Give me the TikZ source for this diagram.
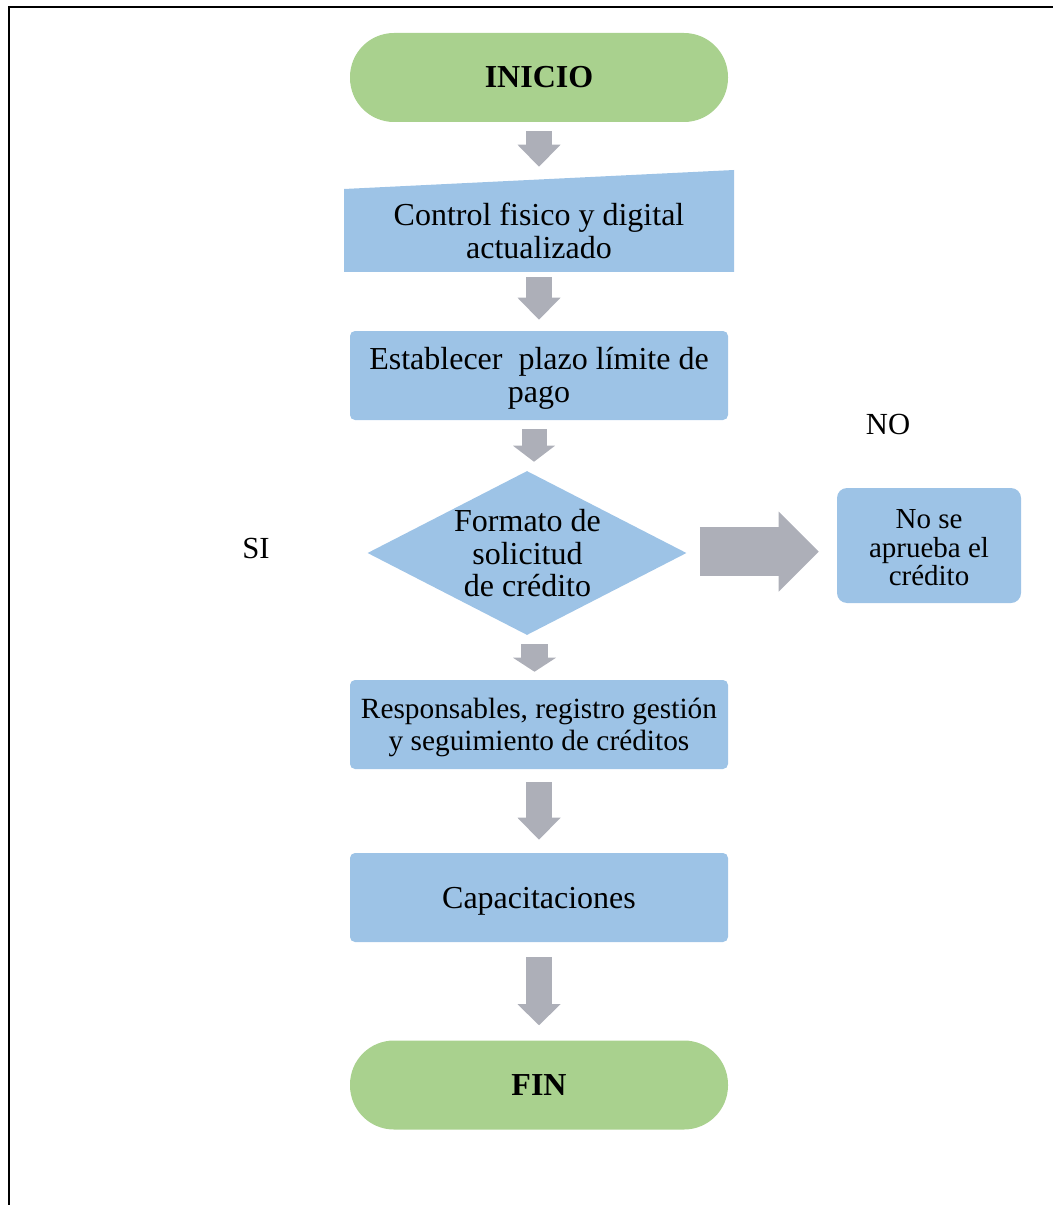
\documentclass[tikz,border=0pt]{standalone}
\usepackage{fontspec}
\setmainfont{Liberation Serif}
\usetikzlibrary{arrows.meta,shapes.geometric}
\definecolor{grn}{HTML}{A9D18E}
\definecolor{blu}{HTML}{9DC3E6}
\definecolor{arrg}{HTML}{ADAFB8}
\begin{document}
\begin{tikzpicture}[x=0.75pt,y=-0.75pt,
  term/.style={fill=grn, rounded corners=33pt, minimum width=283.5pt, minimum height=66.75pt, inner sep=0pt, font=\fontsize{24}{25}\selectfont\bfseries},
  procbox/.style={fill=blu, rounded corners=3.75pt, minimum width=283.5pt, minimum height=66.75pt, inner sep=0pt},
  txt/.style={inner sep=0pt, align=center, font=\fontsize{24}{24.75}\selectfont},
  dia/.style={diamond, fill=blu, minimum width=239.25pt, minimum height=123pt, inner sep=0pt},
  lbl/.style={inner sep=0pt, font=\fontsize{23}{25}\selectfont},
  barrow/.style={draw=arrg, line width=19.5pt, -{Triangle[length=16.5pt,width=32.25pt,line width=0pt]}}
]
\useasboundingbox (0,0) rectangle (1053,1205);
\draw[line width=1.5pt] (8.5,1205) -- (8.5,7.5) -- (1053,7.5);

% shapes
\node[term] (inicio) at (539,77.5) {INICIO};
\fill[blu] (344,272) -- (344,189) -- (734,170) -- (734,272) -- cycle;
\node[txt, minimum width=292.5pt, minimum height=62.25pt] (ctrl) at (539,230.5) {Control fisico y digital\\actualizado};
\node[procbox] (estab) at (539,375.5) {};
\node[txt] (estabt) at ([yshift=-2.25pt]estab.center) {Establecer~ plazo límite de\\pago};
\node[dia] (dec) at (527,553) {};
\node[txt, font=\fontsize{24}{24.4}\selectfont] (dect) at (527.5,553.5) {Formato de\\solicitud\\de crédito};
\node[procbox, minimum width=138pt, minimum height=86.25pt, rounded corners=7.5pt] (nob) at (929,545.5) {};
\node[txt, font=\fontsize{21.75}{21.4}\selectfont] (nobt) at ([yshift=-1.9pt]nob.center) {No se\\aprueba el\\crédito};
\node[procbox] (resp) at (539,724.5) {};
\node[txt, font=\fontsize{22}{24}\selectfont] (respt) at ([yshift=-2.25pt]resp.center) {Responsables, registro gestión\\y seguimiento de créditos};
\node[procbox] (cap) at (539,897.5) {};
\node[txt] (capt) at ([yshift=-3pt]cap.center) {Capacitaciones};
\node[term] (fin) at (539,1085) {FIN};
\node[lbl] (si) at (256,548) {SI};
\node[lbl] (no) at (888,424) {NO};

% block arrows
\draw[barrow] ([yshift=-6.75pt]inicio.south) -- ([yshift=16.5pt]ctrl.north);
\draw[barrow] ([yshift=-3.75pt]ctrl.south) -- ([yshift=8.25pt]estab.north);
\draw[barrow, line width=18.75pt, -{Triangle[length=12pt,width=31.5pt,line width=0pt]}]
  ([xshift=-3.75pt,yshift=-6.75pt]estab.south) -- ([xshift=5.25pt,yshift=6.75pt]dec.north);
\draw[barrow, line width=20.25pt, -{Triangle[length=10.5pt,width=32.25pt,line width=0pt]}]
  ([xshift=5.625pt,yshift=-6.75pt]dec.south) -- ([xshift=-3.375pt,yshift=6pt]resp.north);
\draw[barrow] ([yshift=-9.75pt]resp.south) -- ([yshift=9.75pt]cap.north);
\draw[barrow, -{Triangle[length=15.75pt,width=32.25pt,line width=0pt]}]
  ([yshift=-11.25pt]cap.south) -- ([yshift=11.25pt]fin.north);
\draw[barrow, line width=36.75pt, -{Triangle[length=30pt,width=60pt,line width=0pt]}]
  ([xshift=9.75pt,yshift=1.125pt]dec.east) -- ([xshift=-13.5pt,yshift=-4.5pt]nob.west);
\end{tikzpicture}
\end{document}
